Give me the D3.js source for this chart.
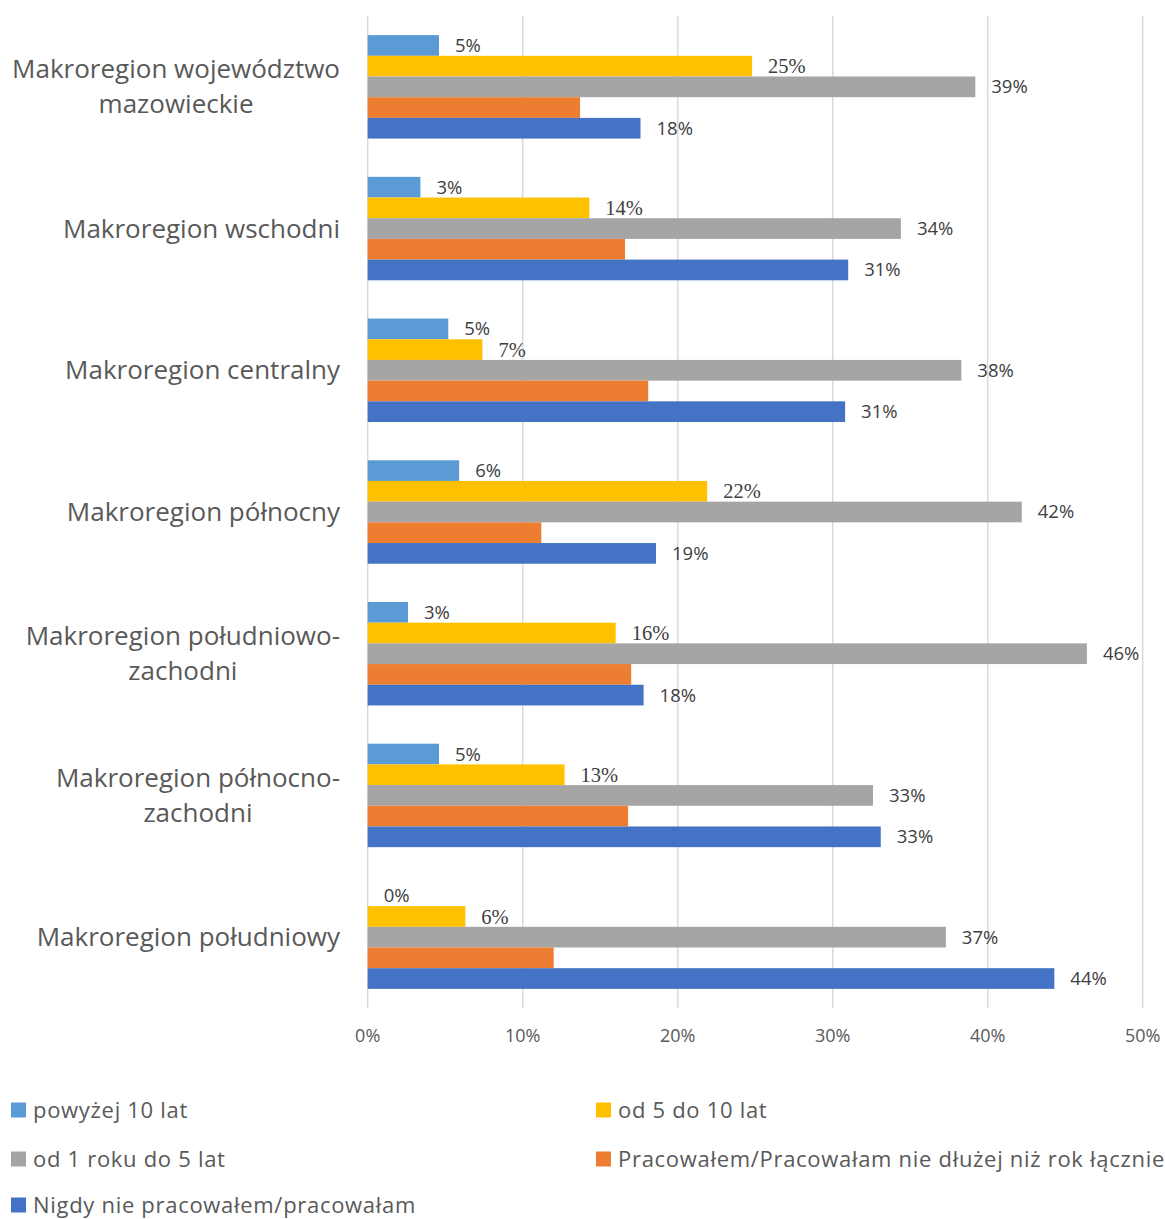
<!DOCTYPE html>
<html>
<head>
<meta charset="utf-8">
<script src="https://cdn.jsdelivr.net/npm/d3@7"></script>
<style>
  html, body { margin: 0; padding: 0; background: #fff; }
  svg { display: block; }
</style>
</head>
<body>
<svg id="chart" width="1165" height="1219"></svg>
<script>
// Regions (line breaks mark where a long name wraps)
const categories = [
  "Makroregion województwo\nmazowieckie",
  "Makroregion wschodni",
  "Makroregion centralny",
  "Makroregion północny",
  "Makroregion południowo-\nzachodni",
  "Makroregion północno-\nzachodni",
  "Makroregion południowy"
];

// Series names, top-to-bottom within each region
const seriesNames = [
  "powyżej 10 lat",
  "od 5 do 10 lat",
  "od 1 roku do 5 lat",
  "Pracowałem/Pracowałam nie dłużej niż rok łącznie",
  "Nigdy nie pracowałem/pracowałam"
];

// Shares in percent, one value per region
const powyzej10 = [4.6, 3.4, 5.2, 5.9, 2.6, 4.6, 0];
const od5do10   = [24.8, 14.3, 7.4, 21.9, 16.0, 12.7, 6.3];
const od1do5    = [39.2, 34.4, 38.3, 42.2, 46.4, 32.6, 37.3];
const doRoku    = [13.7, 16.6, 18.1, 11.2, 17.0, 16.8, 12.0];
const nigdy     = [17.6, 31.0, 30.8, 18.6, 17.8, 33.1, 44.3];

const xTicks = [0, 10, 20, 30, 40, 50];

const seriesValues = [powyzej10, od5do10, od1do5, doRoku, nigdy];
const colors = ["#5b9bd5", "#ffc000", "#a5a5a5", "#ed7d31", "#4472c4"];
const showLabel = [true, true, true, false, true];
const serifLabel = [false, true, false, false, false];

const sans = "'Open Sans', sans-serif";
const serif = "'Liberation Serif', 'Times New Roman', serif";

const svg = d3.select("#chart");
const plot = { left: 367.7, right: 1142.7, top: 16, bottom: 1008 };

const x = d3.scaleLinear().domain([0, 50]).range([plot.left, plot.right]);
const y = d3.scaleBand().domain(categories).range([plot.top, plot.bottom])
  .paddingInner(0.27).paddingOuter(0.135);
const ySub = d3.scaleBand().domain(d3.range(seriesNames.length)).range([0, y.bandwidth()]);

// Vertical gridlines
svg.append("g").selectAll("line").data(xTicks).join("line")
  .attr("x1", d => x(d)).attr("x2", d => x(d))
  .attr("y1", plot.top).attr("y2", plot.bottom)
  .attr("stroke", "#d9d9d9").attr("stroke-width", 1.5);

// Tick labels
svg.append("g").selectAll("text").data(xTicks).join("text")
  .attr("x", d => x(d)).attr("y", 1042)
  .attr("text-anchor", "middle")
  .attr("font-family", sans)
  .attr("font-size", 18).attr("fill", "#595959")
  .text(d => d + "%");

// Bars and value labels
const rows = [];
categories.forEach((c, ci) => {
  seriesValues.forEach((vals, si) => rows.push({ c, si, v: vals[ci] }));
});

svg.append("g").selectAll("rect").data(rows).join("rect")
  .attr("x", x(0))
  .attr("y", d => y(d.c) + ySub(d.si))
  .attr("width", d => x(d.v) - x(0))
  .attr("height", ySub.bandwidth())
  .attr("fill", d => colors[d.si]);

svg.append("g").selectAll("text").data(rows.filter(d => showLabel[d.si])).join("text")
  .attr("x", d => x(d.v) + 16)
  .attr("y", d => y(d.c) + ySub(d.si) + ySub.bandwidth() / 2)
  .attr("dy", "0.35em")
  .attr("font-family", d => serifLabel[d.si] ? serif : sans)
  .attr("font-size", d => serifLabel[d.si] ? 20.5 : 18.5)
  .attr("fill", "#404040")
  .text(d => Math.round(d.v) + "%");

// Region labels: block right-aligned to the axis, lines centred within it
const catG = svg.append("g");
categories.forEach(c => {
  const lines = c.split("\n");
  const lh = 35;
  const cy = y(c) + y.bandwidth() / 2;
  const t = catG.append("text")
    .attr("font-family", sans)
    .attr("font-size", 26).attr("fill", "#595959")
    .attr("text-anchor", "middle");
  const spans = lines.map((l, i) => t.append("tspan")
    .attr("y", cy + (i - (lines.length - 1) / 2) * lh)
    .attr("dy", "0.35em")
    .text(l));
  const maxW = d3.max(spans, s => s.node().getComputedTextLength());
  spans.forEach(s => s.attr("x", 340 - maxW / 2));
});

// Legend, two columns
const legendPos = [
  { x: 11, y: 1110 }, { x: 596, y: 1110 },
  { x: 11, y: 1159 }, { x: 596, y: 1159 },
  { x: 11, y: 1205 }
];
const lg = svg.append("g").selectAll("g").data(seriesNames).join("g")
  .attr("transform", (d, i) => `translate(${legendPos[i].x},${legendPos[i].y})`);
lg.append("rect").attr("x", 0).attr("y", -7.5).attr("width", 15).attr("height", 15)
  .attr("fill", (d, i) => colors[i]);
lg.append("text").attr("x", 22).attr("y", 0).attr("dy", "0.35em")
  .attr("font-family", sans)
  .attr("font-size", 22).attr("letter-spacing", 0.7).attr("fill", "#595959")
  .text(d => d);
</script>
</body>
</html>
